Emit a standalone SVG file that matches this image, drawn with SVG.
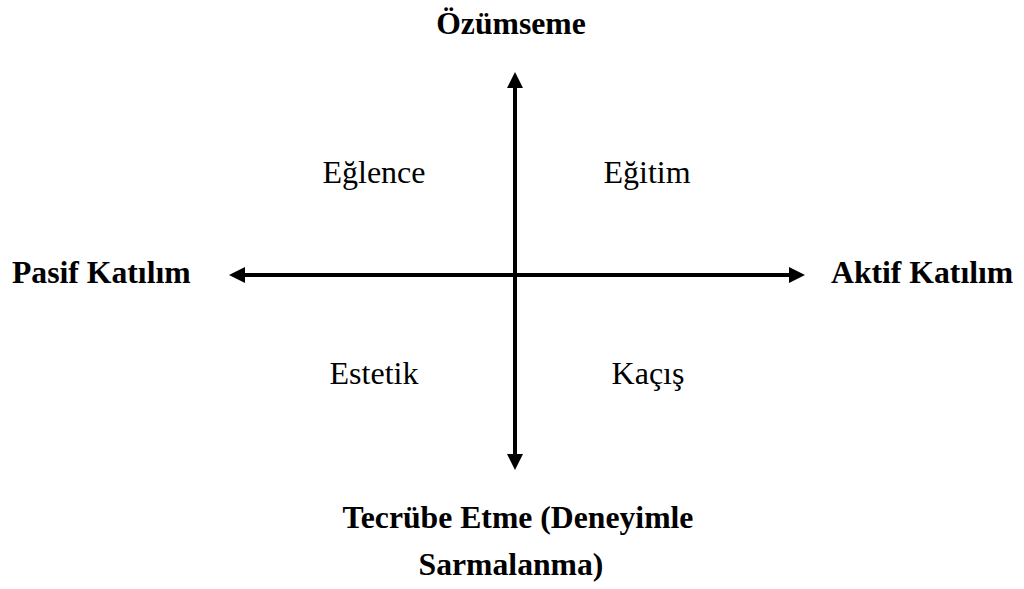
<svg xmlns="http://www.w3.org/2000/svg" width="1024" height="589" viewBox="0 0 1024 589">
<style>
.b{font-family:"Liberation Serif","Times New Roman",serif;font-weight:bold;font-size:31.7px;fill:#000}
.r{font-family:"Liberation Serif","Times New Roman",serif;font-size:32px;fill:#000}
.ax{stroke:#000;stroke-width:4;fill:none}
</style>
<defs>
<marker id="ah" viewBox="0 0 10 10" refX="5" refY="5" markerWidth="4" markerHeight="4" orient="auto" markerUnits="strokeWidth">
<path d="M0,0 L10,5 L0,10 z" fill="#000"/>
</marker>
</defs>
<g id="connectors">
<line class="ax" x1="515" y1="275" x2="515" y2="80" marker-end="url(#ah)"/>
<line class="ax" x1="515" y1="275" x2="515" y2="462" marker-end="url(#ah)"/>
<line class="ax" x1="515" y1="275" x2="237" y2="275" marker-end="url(#ah)"/>
<line class="ax" x1="515" y1="275" x2="797" y2="275" marker-end="url(#ah)"/>
</g>
<g id="top"><text class="b" x="511" y="34" text-anchor="middle">Özümseme</text></g>
<g id="left"><text class="b" x="12" y="283">Pasif Katılım</text></g>
<g id="right"><text class="b" x="831" y="283">Aktif Katılım</text></g>
<g id="bottom"><text class="b" x="518" y="528" text-anchor="middle">Tecrübe Etme (Deneyimle</text><text class="b" x="511" y="575" text-anchor="middle">Sarmalanma)</text></g>
<g id="q1"><text class="r" x="374" y="183" text-anchor="middle">Eğlence</text></g>
<g id="q2"><text class="r" x="647" y="183" text-anchor="middle">Eğitim</text></g>
<g id="q3"><text class="r" x="374" y="384" text-anchor="middle">Estetik</text></g>
<g id="q4"><text class="r" x="648" y="384" text-anchor="middle">Kaçış</text></g>
</svg>
